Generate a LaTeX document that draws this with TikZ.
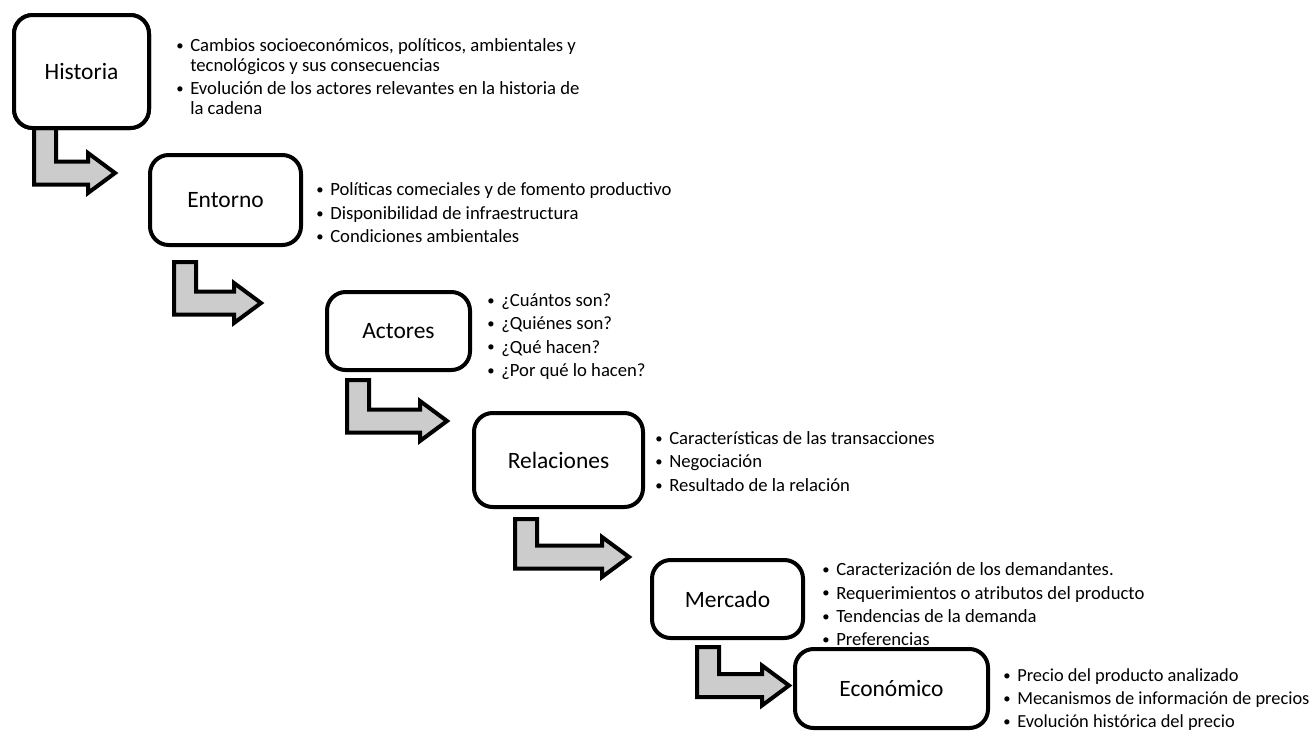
\documentclass[tikz,border=0pt]{standalone}
\usepackage{fontspec}
\setmainfont{Carlito}
\usetikzlibrary{positioning,calc}

\tikzset{
  stage/.style={draw, line width=3pt, rounded corners=14pt, fill=white, inner sep=0pt,
    font=\fontsize{17.6}{21}\selectfont},
  notes/.style={anchor=west, align=left, inner sep=0pt, font=\fontsize{14}{17.6}\selectfont},
  bent/.style={draw, line width=3pt, fill=black!20, line join=miter},
}
\newcommand\itm{\makebox[10.5pt][l]{\raisebox{0.8pt}{\fontsize{11}{11}\selectfont\textbullet}}}
\newcommand\cnt{\hspace*{10.5pt}}
\newcommand\bentarrow[2]{%
  \draw[bent] (#1) -- ++(22,0) |- ($(#2)+(-27,-11.5)$) -- ++(0,-8.5) -- (#2)
    -- ($(#2)+(-27,20)$) -- ++(0,-8.5) -| (#1) -- cycle;}

\begin{document}
\begin{tikzpicture}[x=0.75pt,y=-0.75pt]
\useasboundingbox (0,0) rectangle (1314,733);

\node[stage, minimum width=101.25pt, minimum height=84.75pt] (hist) at (81.5,71.5) {Historia};
\node[stage, minimum width=113.25pt, minimum height=67.5pt, below right=17.25pt and -2.25pt of hist] (ent) {Entorno};
\node[stage, minimum width=107.25pt, minimum height=58.5pt, below right=32.25pt and 16.5pt of ent] (act) {Actores};
\node[stage, minimum width=126.75pt, minimum height=70.5pt, below right=29.25pt and 0pt of act] (rel) {Relaciones};
\node[stage, minimum width=113.25pt, minimum height=58.5pt, below right=36.75pt and 3.75pt of rel] (mer) {Mercado};
\node[stage, minimum width=144.75pt, minimum height=59.25pt, below right=5.25pt and -9pt of mer] (eco) {Económico};

\coordinate (s1) at ($(hist.south west)+(22,-2)$);
\coordinate (t1) at ($(ent.west)+(-33,-27)$);
\coordinate (s2) at ($(ent.south west)+(26,15)$);
\coordinate (t2) at ($(act.west)+(-64,-28)$);
\coordinate (s3) at ($(act.south west)+(22,8)$);
\coordinate (t3) at ($(rel.west)+(-25,-39)$);
\coordinate (s4) at ($(rel.south west)+(43,10)$);
\coordinate (t4) at ($(mer.west)+(-21,-42)$);
\coordinate (s5) at ($(mer.south west)+(47,7)$);
\coordinate (t5) at ($(eco.west)+(-4,-3)$);
\bentarrow{s1}{t1}
\bentarrow{s2}{t2}
\bentarrow{s3}{t3}
\bentarrow{s4}{t4}
\bentarrow{s5}{t5}
\node[stage, minimum width=101.25pt, minimum height=84.75pt] at (hist) {Historia};

\node[notes, font=\fontsize{14}{15}\selectfont, right=18.75pt of hist, yshift=-3.75pt] (histn)
  {\itm Cambios socioeconómicos, políticos, ambientales y\\
   \cnt tecnológicos y sus consecuencias\\[2.25pt]
   \itm Evolución de los actores relevantes en la historia de\\
   \cnt la cadena};
\node[notes, right=9.75pt of ent, yshift=-9.75pt] (entn)
  {\itm Políticas comeciales y de fomento productivo\\
   \itm Disponibilidad de infraestructura\\
   \itm Condiciones ambientales};
\node[notes, right=11.25pt of act, yshift=-4.1pt] (actn)
  {\itm ¿Cuántos son?\\
   \itm ¿Quiénes son?\\
   \itm ¿Qué hacen?\\
   \itm ¿Por qué lo hacen?};
\node[notes, right=7.5pt of rel, yshift=-1pt] (reln)
  {\itm Características de las transacciones\\
   \itm Negociación\\
   \itm Resultado de la relación};
\node[notes, right=12.75pt of mer, yshift=-4pt] (mern)
  {\itm Caracterización de los demandantes.\\
   \itm Requerimientos o atributos del producto\\
   \itm Tendencias de la demanda\\
   \itm Preferencias};
\node[notes, font=\fontsize{13.8}{17.4}\selectfont, right=9.75pt of eco, yshift=-8.25pt] (econ)
  {\itm Precio del producto analizado\\
   \itm Mecanismos de información de precios\\
   \itm Evolución histórica del precio};
\end{tikzpicture}
\end{document}
